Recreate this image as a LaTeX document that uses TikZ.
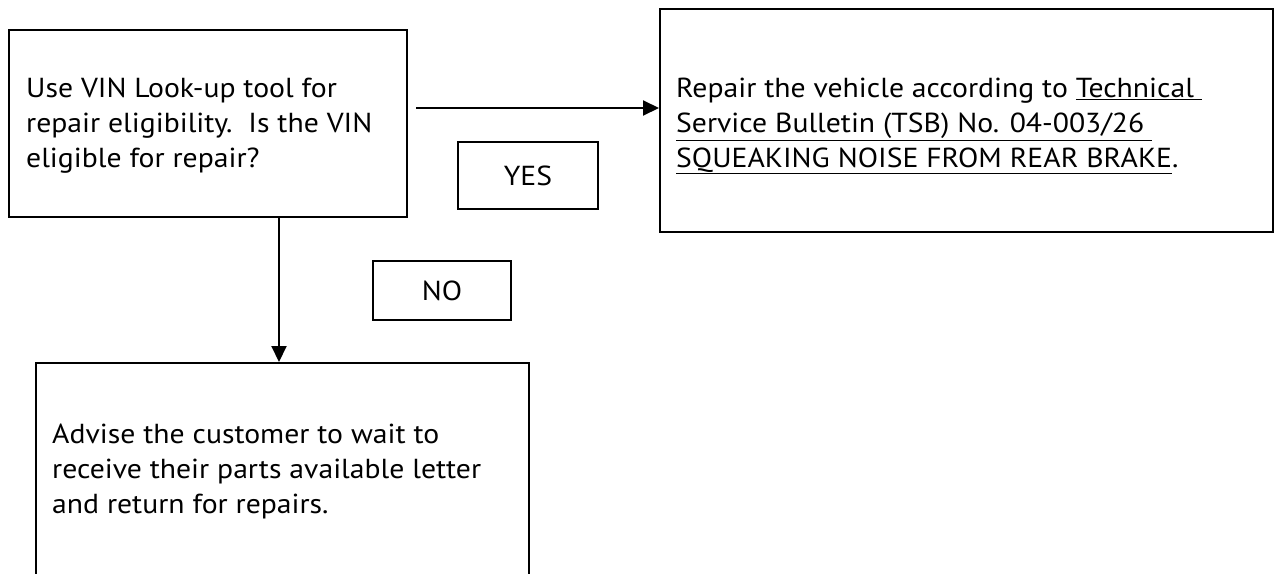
\documentclass[tikz,border=0pt]{standalone}
\usepackage{fontspec}
\setmainfont{PT Sans}[FakeStretch=1.08]
\usetikzlibrary{arrows.meta}
\begin{document}
\begin{tikzpicture}[x=1pt,y=-1pt,
  box/.style={draw=black, line width=2pt, inner sep=0pt, anchor=north west},
  txt/.style={anchor=base west, align=left, inner sep=0pt, font=\fontsize{27.5}{34.7}\selectfont},
  lbl/.style={font=\fontsize{27.5}{30}\selectfont},
  conn/.style={line width=2pt, -{Triangle[length=16pt,width=15pt]}}]
\useasboundingbox (0,0) rectangle (1277,573);
\clip (0,0) rectangle (1277,573);
% boxes
\node[box, minimum width=398pt, minimum height=187pt] (A) at (8,29) {};
\node[box, minimum width=613pt, minimum height=223pt] (B) at (659,8) {};
\node[box, lbl, minimum width=140pt, minimum height=67pt] (yes) at (457,141) {YES};
\node[box, lbl, minimum width=138pt, minimum height=59pt] (no) at (372,260) {NO};
\node[box, minimum width=493pt, minimum height=260pt] (C) at (35,362) {};
% texts (anchored at the baseline of the last line)
\node[txt] (tA) at (26,167) {Use VIN Look-up tool for\\repair eligibility.\ \ Is the VIN\\eligible for repair?};
\node[txt] (tB) at (676,167) {Repair the vehicle according to \underline{Technical\ }\\\underline{Service Bulletin (TSB) No. 04-003/26\ }\\\underline{SQUEAKING NOISE FROM REAR BRAKE}.};
\node[txt] (tC) at (52,513) {Advise the customer to wait to\\receive their parts available letter\\and return for repairs.};
% connectors
\coordinate (s1) at (416,108);
\coordinate (s2) at (279,216);
\draw[conn] (s1) -- (s1 -| B.west);
\draw[conn] (s2) -- (s2 |- C.north);
\end{tikzpicture}
\end{document}
